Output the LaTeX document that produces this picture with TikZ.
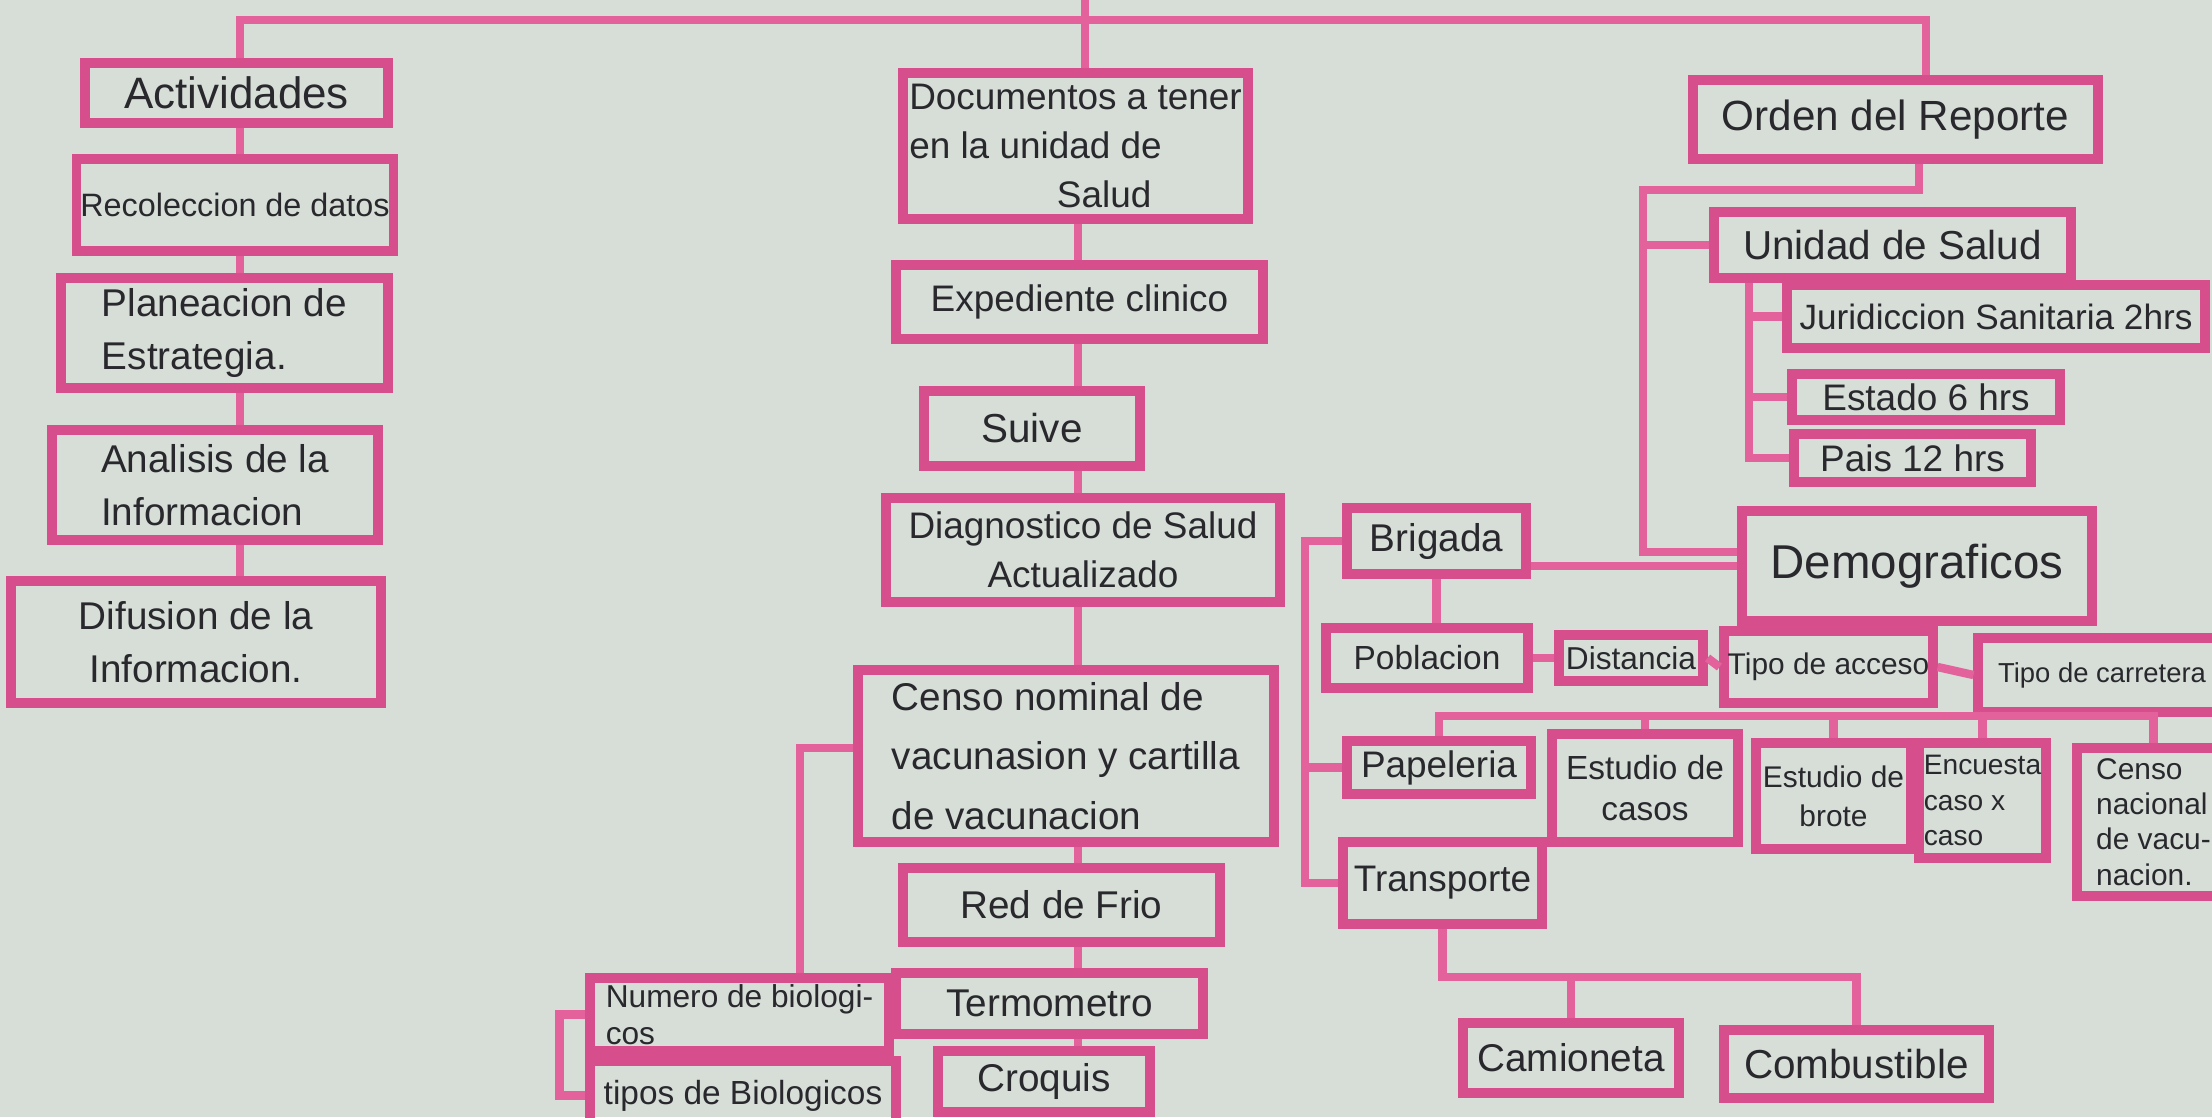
\documentclass[tikz,border=0pt]{standalone}
\usepackage{fontspec}
\setmainfont{Liberation Sans}
\definecolor{bgc}{RGB}{214,222,215}
\definecolor{boxc}{RGB}{214,78,140}
\definecolor{linec}{RGB}{228,98,155}
\definecolor{ink}{RGB}{40,40,45}
\newcommand\fz[2]{\fontsize{#1}{#2}\selectfont}
\newcommand\bx[7]{%
  \node[box,#6,minimum width={(#4-#2)*0.01cm},minimum height={(#5-#3)*0.01cm}] (#1) at ({(#2+#4)/2},{(#3+#5)/2}) {#7};}
\begin{document}
\begin{tikzpicture}[x=0.01cm,y=-0.01cm,
  box/.style={draw=boxc,line width=2.6pt,inner sep=1pt,text=ink,rectangle},
  conn/.style={draw=linec,line width=2.4pt}]
\fill[bgc] (0,0) rectangle (2212,1117);
\useasboundingbox (0,0) rectangle (2212,1117);
% left column
\bx{act}{85}{63}{388}{123}{font=\fz{12.5}{15}}{Actividades}
\bx{rec}{78}{159}{392}{251}{font=\fz{9.2}{11}}{Recoleccion de datos}
\bx{plan}{61}{278}{388}{388}{align=left,font=\fz{11}{15}}{Planeacion de\\Estrategia.}
\bx{ana}{52}{430}{378}{540}{align=left,font=\fz{11}{15}}{Analisis de la\\Informacion}
\bx{dif}{11}{581}{381}{703}{align=center,font=\fz{11}{15}}{Difusion de la\\Informacion.}
% center column
\bx{doc}{903}{73}{1248}{219}{align=left,font=\fz{10.5}{14}}{Documentos a tener\\en la unidad de\\\hspace*{4em}Salud}
\bx{exp}{896}{265}{1263}{339}{font=\fz{10.5}{13}}{Expediente clinico}
\bx{suive}{924}{391}{1140}{466}{font=\fz{11.5}{14}}{Suive}
\bx{diag}{886}{498}{1280}{602}{align=center,font=\fz{10.5}{14}}{Diagnostico de Salud\\Actualizado}
\bx{censo}{858}{670}{1274}{842}{align=left,font=\fz{11}{17}}{Censo nominal de\\vacunasion y cartilla\\de vacunacion}
\bx{red}{903}{868}{1220}{942}{font=\fz{11}{13}}{Red de Frio}
\bx{term}{896}{973}{1203}{1034}{font=\fz{11}{13}}{Termometro}
\bx{croq}{938}{1051}{1150}{1112}{font=\fz{11}{13}}{Croquis}
\bx{num}{590}{978}{889}{1051}{align=left,font=\fz{9}{10.5}}{Numero de biologi-\\cos}
\bx{tipos}{590}{1061}{896}{1130}{font=\fz{9.5}{11}}{tipos de Biologicos}
% right part
\bx{ord}{1693}{80}{2098}{159}{font=\fz{12}{14}}{Orden del Reporte}
\bx{uni}{1714}{212}{2071}{278}{font=\fz{11.5}{14}}{Unidad de Salud}
\bx{jur}{1787}{285}{2205}{348}{font=\fz{10}{12}}{Juridiccion Sanitaria 2hrs}
\bx{est}{1792}{374}{2060}{420}{font=\fz{10.5}{12}}{Estado 6 hrs}
\bx{pais}{1794}{434}{2031}{482}{font=\fz{10.5}{12}}{Pais 12 hrs}
\bx{demo}{1742}{511}{2092}{621}{font=\fz{13.5}{16}}{Demograficos}
\bx{brig}{1347}{508}{1526}{574}{font=\fz{11}{13}}{Brigada}
\bx{pob}{1326}{628}{1528}{688}{font=\fz{9.5}{11}}{Poblacion}
\bx{dist}{1559}{635}{1703}{681}{font=\fz{9}{11}}{Distancia}
\bx{acc}{1724}{631}{1933}{703}{font=\fz{8.5}{10}}{Tipo de acceso}
\bx{car}{1978}{638}{2226}{712}{font=\fz{7.8}{10}}{Tipo de carretera}
\bx{pap}{1347}{741}{1531}{794}{font=\fz{10.5}{12}}{Papeleria}
\bx{ecas}{1552}{734}{1738}{842}{align=center,font=\fz{9.5}{11.5}}{Estudio de\\casos}
\bx{ebro}{1756}{743}{1911}{849}{align=center,font=\fz{8.5}{11}}{Estudio de\\brote}
\bx{enc}{1919}{743}{2046}{858}{align=left,font=\fz{8}{10}}{Encuesta\\caso x\\caso}
\bx{cnac}{2077}{748}{2230}{896}{align=left,font=\fz{8.5}{10}}{Censo\\nacional\\de vacu-\\nacion.}
\bx{trans}{1343}{842}{1542}{924}{font=\fz{10.5}{12}}{Transporte}
\bx{cam}{1463}{1023}{1679}{1093}{font=\fz{11}{13}}{Camioneta}
\bx{comb}{1724}{1030}{1989}{1098}{font=\fz{11.5}{13}}{Combustible}
% helper coordinates
\coordinate (root) at (1085,0);
\coordinate (tj) at (0,20);
\coordinate (lx) at (240,0);
\coordinate (ordx) at (1926,0);
\coordinate (cx) at (1078,0);
\coordinate (nx) at (800,0);
\coordinate (rx) at (1643,0);
\coordinate (ox) at (1919,0);
\coordinate (j1y) at (0,190);
\coordinate (ux) at (1749,0);
\coordinate (bx) at (1305,0);
\coordinate (by) at (0,716);
\coordinate (ty) at (0,977);
% top connectors
\draw[conn] (lx |- act.north) -- (lx |- tj) -- (ordx |- tj) -- (ordx |- ord.north);
\draw[conn] (root) -- (root |- doc.north);
% left column
\draw[conn] (lx |- act.south) -- (lx |- rec.north);
\draw[conn] (lx |- rec.south) -- (lx |- plan.north);
\draw[conn] (lx |- plan.south) -- (lx |- ana.north);
\draw[conn] (lx |- ana.south) -- (lx |- dif.north);
% center column
\draw[conn] (cx |- doc.south) -- (cx |- exp.north);
\draw[conn] (cx |- exp.south) -- (cx |- suive.north);
\draw[conn] (cx |- suive.south) -- (cx |- diag.north);
\draw[conn] (cx |- diag.south) -- (cx |- censo.north);
\draw[conn] (cx |- censo.south) -- (cx |- red.north);
\draw[conn] (cx |- red.south) -- (cx |- term.north);
\draw[conn] (cx |- term.south) -- (cx |- croq.north);
\draw[conn] ([yshift=2.3pt]censo.west) -| (nx |- num.north);
\draw[conn] (num.west) -- ++(-26,0) |- (tipos.west);
% right: orden del reporte
\draw[conn] (ox |- ord.south) -- (ox |- j1y) -- (rx |- j1y) |- ([yshift=4pt]demo.west);
\draw[conn] (rx |- uni.west) -- (uni.west);
\draw[conn] (ux |- uni.south) |- (pais.west);
\draw[conn] (ux |- jur.west) -- (jur.west);
\draw[conn] (ux |- est.west) -- (est.west);
% brigada
\draw[conn] (brig.west) -| (bx |- trans.west) -- (trans.west);
\draw[conn] (bx |- pap.west) -- (pap.west);
\draw[conn] (brig.east |- demo.west) -- (demo.west);
\draw[conn] (brig.south) -- (brig.south |- pob.north);
\draw[conn] (pob.east) -- (dist.west);
\draw[conn] (dist.east) -- (acc.west);
\draw[conn] (acc.east) -- (car.west);
% papeleria bar
\draw[conn] (pap.north) -- (pap.north |- by) -- (cnac.north |- by) -- (cnac.north);
\draw[conn] (ecas.north |- by) -- (ecas.north);
\draw[conn] (ebro.north |- by) -- (ebro.north);
\draw[conn] (enc.north |- by) -- (enc.north);
% transporte
\draw[conn] (trans.south) -- (trans.south |- ty) -- (comb.north |- ty) -- (comb.north);
\draw[conn] (cam.north |- ty) -- (cam.north);
\end{tikzpicture}
\end{document}
